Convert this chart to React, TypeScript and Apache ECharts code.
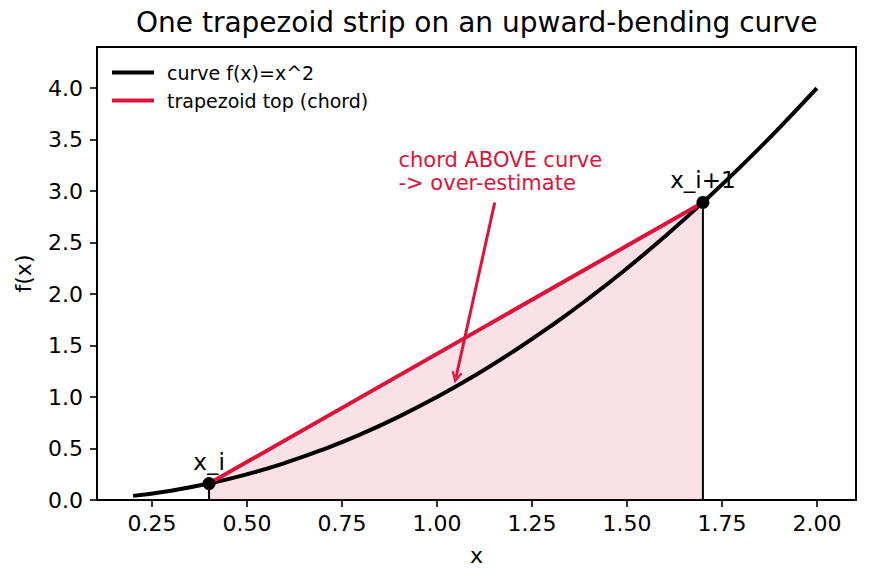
import React, { useEffect, useRef } from "react";
import * as echarts from "echarts";

const curveX = [0.2, 0.3, 0.4, 0.5, 0.6, 0.7, 0.8, 0.9, 1.0, 1.1, 1.2, 1.3, 1.4, 1.5, 1.6, 1.7, 1.8, 1.9, 2.0];
const curveY = [0.04, 0.09, 0.16, 0.25, 0.36, 0.49, 0.64, 0.81, 1.0, 1.21, 1.44, 1.69, 1.96, 2.25, 2.56, 2.89, 3.24, 3.61, 4.0];
const chordX = [0.4, 1.7];
const chordY = [0.16, 2.89];
const pointLabels = ["x_i", "x_i+1"];
const xTicks = [0.25, 0.5, 0.75, 1.0, 1.25, 1.5, 1.75, 2.0];
const yTicks = [0, 0.5, 1.0, 1.5, 2.0, 2.5, 3.0, 3.5, 4.0];
const annotationText = "chord ABOVE curve\n-> over-estimate";
const annotationAt = [0.9, 3.0];
const arrowFrom = [1.152, 2.89];
const arrowTo = [1.05, 1.19];

const CRIMSON = "#DC143C";
const FONT = "DejaVu Sans";

export default function App() {
  const ref = useRef<HTMLDivElement>(null);
  useEffect(() => {
    if (!ref.current) return;
    const chart = echarts.init(ref.current, null, { renderer: "svg" });
    const curveData = curveX.map((x, i) => [x, curveY[i]]);
    const chordData = chordX.map((x, i) => [x, chordY[i]]);
    chart.setOption({
      animation: false,
      backgroundColor: "#fff",
      textStyle: { fontFamily: FONT },
      title: {
        text: "One trapezoid strip on an upward-bending curve",
        left: 136,
        top: 8,
        padding: 0,
        textStyle: { fontFamily: FONT, fontSize: 28, fontWeight: "normal", color: "#000" },
      },
      legend: {
        orient: "vertical",
        left: 112,
        top: 63,
        padding: 0,
        itemGap: 9,
        itemWidth: 42,
        itemHeight: 4,
        icon: "rect",
        data: ["curve f(x)=x^2", "trapezoid top (chord)"],
        textStyle: { fontFamily: FONT, fontSize: 19, color: "#000", padding: [0, 0, 0, 8] },
      },
      grid: {
        left: 97,
        right: 13,
        top: 47,
        bottom: 81,
        show: true,
        borderColor: "#000",
        borderWidth: 2,
        backgroundColor: "transparent",
      },
      xAxis: {
        type: "value",
        min: 0.105,
        max: 2.103,
        name: "x",
        nameLocation: "middle",
        nameGap: 44,
        nameTextStyle: { fontFamily: FONT, fontSize: 22, color: "#000" },
        axisLine: { show: false },
        splitLine: { show: false },
        axisTick: { show: true, length: 7, inside: false, customValues: xTicks, lineStyle: { color: "#000", width: 1.6 } },
        axisLabel: {
          customValues: xTicks,
          margin: 12,
          fontFamily: FONT,
          fontSize: 22,
          color: "#000",
          formatter: (v: number) => v.toFixed(2),
        },
      },
      yAxis: {
        type: "value",
        min: 0,
        max: 4.4,
        name: "f(x)",
        nameLocation: "middle",
        nameGap: 63,
        nameTextStyle: { fontFamily: FONT, fontSize: 22, color: "#000" },
        axisLine: { show: false },
        splitLine: { show: false },
        axisTick: { show: true, length: 7, inside: false, customValues: yTicks, lineStyle: { color: "#000", width: 1.6 } },
        axisLabel: {
          customValues: yTicks,
          margin: 14,
          fontFamily: FONT,
          fontSize: 22,
          color: "#000",
          formatter: (v: number) => v.toFixed(1),
        },
      },
      series: [
        {
          name: "fill",
          type: "line",
          data: chordData,
          symbol: "none",
          lineStyle: { width: 0 },
          areaStyle: { color: "rgba(220,20,60,0.13)", opacity: 1 },
          z: 1,
          silent: true,
        },
        {
          name: "vline0",
          type: "line",
          data: [[chordX[0], 0], chordData[0]],
          symbol: "none",
          lineStyle: { color: "#000", width: 2 },
          z: 2,
        },
        {
          name: "vline1",
          type: "line",
          data: [[chordX[1], 0], chordData[1]],
          symbol: "none",
          lineStyle: { color: "#000", width: 2 },
          z: 2,
        },
        {
          name: "pointLabels",
          type: "scatter",
          symbolSize: 13,
          itemStyle: { color: "rgba(0,0,0,0)", opacity: 1 },
          z: 2,
          silent: true,
          data: chordData.map((d, i) => ({
            value: d,
            label: {
              show: true,
              formatter: pointLabels[i],
              position: "top",
              distance: 4,
              fontFamily: FONT,
              fontSize: 23,
              color: "#000",
            },
          })),
        },
        {
          name: "curve f(x)=x^2",
          type: "line",
          data: curveData,
          smooth: true,
          symbol: "none",
          color: "#000",
          lineStyle: { color: "#000", width: 4 },
          z: 3,
        },
        {
          name: "trapezoid top (chord)",
          type: "line",
          data: chordData,
          symbol: "none",
          color: CRIMSON,
          lineStyle: { color: CRIMSON, width: 4 },
          z: 4,
        },
        {
          name: "points",
          type: "scatter",
          symbolSize: 13,
          itemStyle: { color: "#000", opacity: 1 },
          z: 5,
          data: chordData,
        },
        {
          name: "annotation",
          type: "scatter",
          symbolSize: 1,
          itemStyle: { color: "rgba(0,0,0,0)", opacity: 1 },
          z: 6,
          data: [
            {
              value: annotationAt,
              label: {
                show: true,
                formatter: annotationText,
                position: [0, 0],
                align: "left",
                verticalAlign: "bottom",
                offset: [0, 4],
                lineHeight: 23,
                fontFamily: FONT,
                fontSize: 21,
                color: CRIMSON,
                opacity: 1,
              },
            },
          ],
          markLine: {
            silent: true,
            symbol: ["none", "path://M5,0 L10,10 L8.4,11 L5,4.2 L1.6,11 L0,10 Z"],
            symbolSize: [11, 12],
            label: { show: false },
            lineStyle: { color: CRIMSON, width: 3, type: "solid", opacity: 1 },
            data: [[{ coord: arrowFrom }, { coord: arrowTo }]],
          },
        },
      ],
    });
    return () => chart.dispose();
  }, []);
  return (
    <div
      ref={ref}
      style={{ position: "fixed", left: 0, top: 0, width: 869, height: 581 }}
    />
  );
}
